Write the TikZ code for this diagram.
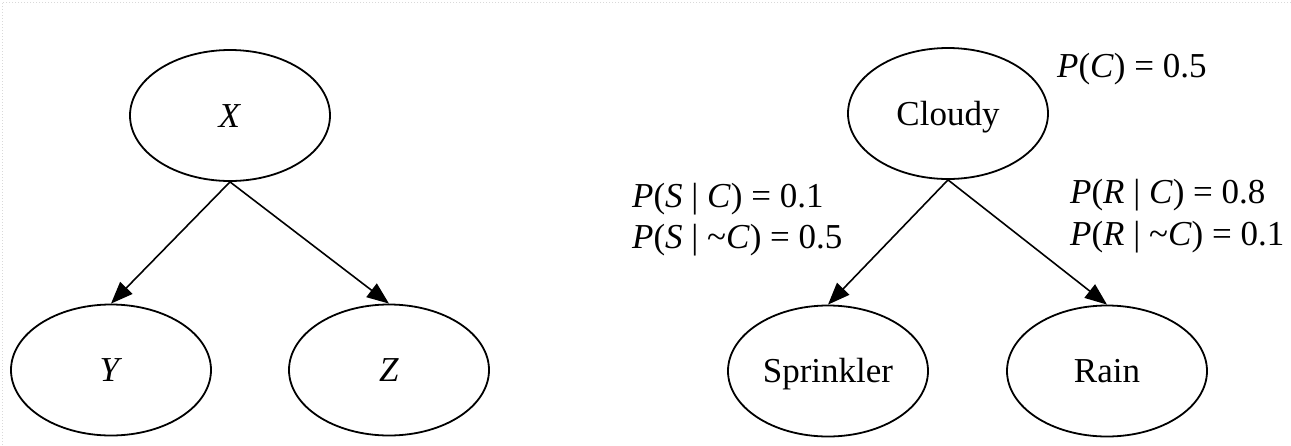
\documentclass[tikz,border=0pt]{standalone}
\usepackage{fontspec}
\setmainfont{Liberation Serif}
\usetikzlibrary{shapes.geometric,arrows.meta}
\begin{document}
\begin{tikzpicture}[x=1pt,y=-1pt,
  var/.style={draw,ellipse,line width=1.8pt,minimum width=200pt,minimum height=131pt,inner sep=0pt,
    font=\fontsize{35}{41}\selectfont,text height=23pt,text depth=0pt},
  prob/.style={anchor=base west,inner sep=0pt,font=\fontsize{35}{41}\selectfont},
  edge/.style={line width=1.6pt,-{Triangle[length=22pt,width=17pt]}}]
\useasboundingbox (0,0) rectangle (1291,445);
\draw[gray!30,line width=1pt,dotted] (1291,2) -- (2,2) -- (2,445);
% left network
\node[var] (X) at (230,115.5) {\textit{X}};
\node[var] (Y) at (111,370) {\textit{Y}};
\node[var] (Z) at (389,370) {\textit{Z}};
\draw[edge] (X.south) -- (Y.north);
\draw[edge] (X.south) -- (Z.north);
% right network
\node[var] (C) at (948,113.5) {Cloudy};
\node[var] (S) at (828,371) {Sprinkler};
\node[var] (R) at (1107,371) {Rain};
\draw[edge] (C.south) -- (S.north);
\draw[edge] (C.south) -- (R.north);
\node[prob] (pc) at (1057,77) {\textit{P}(\textit{C}) = 0.5};
\node[prob] (ps1) at (632,207) {\textit{P}(\textit{S} | \textit{C}) = 0.1};
\node[prob] (ps2) at (632,248) {\textit{P}(\textit{S} | \textasciitilde\textit{C}) = 0.5};
\node[prob] (pr1) at (1070,203) {\textit{P}(\textit{R} | \textit{C}) = 0.8};
\node[prob] (pr2) at (1070,245) {\textit{P}(\textit{R} | \textasciitilde\textit{C}) = 0.1};
\end{tikzpicture}
\end{document}
